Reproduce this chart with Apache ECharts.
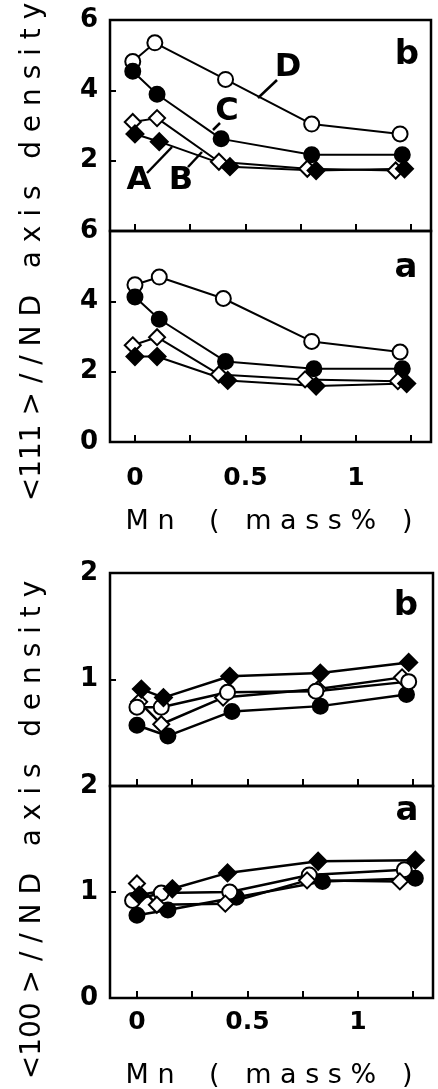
<!DOCTYPE html>
<html>
<head>
<meta charset="utf-8">
<script src="https://cdn.jsdelivr.net/npm/echarts@6/dist/echarts.min.js"></script>
<style>
html, body { margin: 0; padding: 0; background: #fff; }
#main { width: 438px; height: 1089px; }
</style>
</head>
<body>
<div id="main"></div>
<script>
/* ---- data: [Mn mass%, density] ---- */
// <111>//ND, panel b
var p111b_A = [[0.00, 2.76], [0.11, 2.54], [0.43, 1.83], [0.82, 1.72], [1.22, 1.77]];
var p111b_B = [[-0.01, 3.10], [0.10, 3.21], [0.38, 1.97], [0.78, 1.77], [1.18, 1.72]];
var p111b_C = [[-0.01, 4.54], [0.10, 3.89], [0.39, 2.62], [0.80, 2.17], [1.21, 2.17]];
var p111b_D = [[-0.01, 4.82], [0.09, 5.35], [0.41, 4.31], [0.80, 3.04], [1.20, 2.76]];
// <111>//ND, panel a
var p111a_A = [[0.00, 2.43], [0.10, 2.43], [0.42, 1.75], [0.82, 1.59], [1.23, 1.66]];
var p111a_B = [[-0.01, 2.75], [0.10, 2.98], [0.38, 1.92], [0.77, 1.78], [1.19, 1.73]];
var p111a_C = [[0.00, 4.12], [0.11, 3.49], [0.41, 2.29], [0.81, 2.08], [1.21, 2.08]];
var p111a_D = [[0.00, 4.47], [0.11, 4.69], [0.40, 4.08], [0.80, 2.86], [1.20, 2.56]];
// <100>//ND, panel b
var p100b_A = [[0.02, 0.91], [0.12, 0.83], [0.42, 1.03], [0.83, 1.06], [1.23, 1.16]];
var p100b_B = [[0.01, 0.79], [0.11, 0.58], [0.39, 0.83], [0.82, 0.91], [1.20, 1.02]];
var p100b_C = [[0.00, 0.57], [0.14, 0.47], [0.43, 0.70], [0.83, 0.75], [1.22, 0.86]];
var p100b_D = [[0.00, 0.74], [0.11, 0.74], [0.41, 0.88], [0.81, 0.89], [1.23, 0.98]];
// <100>//ND, panel a
var p100a_A = [[0.01, 0.97], [0.16, 1.03], [0.41, 1.18], [0.82, 1.29], [1.26, 1.30]];
var p100a_B = [[0.00, 1.08], [0.09, 0.88], [0.40, 0.89], [0.77, 1.11], [1.19, 1.10]];
var p100a_C = [[0.00, 0.78], [0.14, 0.83], [0.45, 0.95], [0.84, 1.10], [1.26, 1.13]];
var p100a_D = [[-0.02, 0.92], [0.11, 0.99], [0.42, 1.00], [0.78, 1.16], [1.21, 1.21]];

var xTicks = [0, 0.25, 0.5, 0.75, 1, 1.25];
var xTickLabels = [0, 0.5, 1];

var tickFont = 'DejaVu Sans';
var titleFont = 'DejaVu Sans';

// grids: 0 = <111> b, 1 = <111> a, 2 = <100> b, 3 = <100> a
var grids = [
    {left: 110, top: 20, width: 321, height: 211},
    {left: 110, top: 231, width: 321, height: 211},
    {left: 110, top: 573, width: 323, height: 213},
    {left: 110, top: 786, width: 323, height: 212}
];
grids.forEach(function (g) {
    g.show = true;
    g.borderColor = '#000';
    g.borderWidth = 2.5;
    g.backgroundColor = 'transparent';
});

function xAxis(idx, showLabels, xmin, margin) {
    return {
        type: 'value', gridIndex: idx, min: xmin, max: 1.34,
        axisLine: {show: false, onZero: false},
        splitLine: {show: false},
        axisTick: {inside: true, length: 7, customValues: xTicks, lineStyle: {color: '#000', width: 2}},
        axisLabel: {
            show: showLabels, customValues: xTickLabels, margin: margin,
            color: '#000', fontFamily: tickFont, fontWeight: 'bold', fontSize: 25
        }
    };
}

function yAxis(idx, max, step, hideMin) {
    return {
        type: 'value', gridIndex: idx, min: 0, max: max, interval: step,
        axisLine: {show: false, onZero: false},
        splitLine: {show: false},
        axisTick: {inside: true, length: 6, lineStyle: {color: '#000', width: 2}},
        axisLabel: {
            showMinLabel: !hideMin, margin: 12,
            color: '#000', fontFamily: tickFont, fontWeight: 'bold', fontSize: 26
        }
    };
}

// A filled diamond, B open diamond, C filled circle, D open circle
var markers = {
    A: {symbol: 'diamond', fill: '#000', size: 17},
    B: {symbol: 'diamond', fill: '#fff', size: 16},
    C: {symbol: 'circle', fill: '#000', size: 15},
    D: {symbol: 'circle', fill: '#fff', size: 15}
};

function line(name, data, idx, lw) {
    var m = markers[name];
    return {
        name: name, type: 'line', xAxisIndex: idx, yAxisIndex: idx,
        data: data,
        symbol: m.symbol, symbolSize: m.size,
        showAllSymbol: true,
        lineStyle: {color: '#000', width: lw},
        itemStyle: {color: m.fill, borderColor: '#000', borderWidth: 2},
        emphasis: {disabled: true},
        animation: false,
        z: 3
    };
}

var series = [
    line('D', p111b_D, 0, 2), line('C', p111b_C, 0, 2), line('B', p111b_B, 0, 2), line('A', p111b_A, 0, 2),
    line('D', p111a_D, 1, 2), line('C', p111a_C, 1, 2), line('B', p111a_B, 1, 2), line('A', p111a_A, 1, 2),
    line('C', p100b_C, 2, 2.5), line('B', p100b_B, 2, 2.5), line('D', p100b_D, 2, 2.5), line('A', p100b_A, 2, 2.5),
    line('C', p100a_C, 3, 2.5), line('D', p100a_D, 3, 2.5), line('B', p100a_B, 3, 2.5), line('A', p100a_A, 3, 2.5)
];

function txt(s, x, y, font, rot) {
    return {
        type: 'text', x: x, y: y, rotation: rot || 0, z: 10,
        style: {text: s, x: 0, y: 0, font: font, fill: '#000', textAlign: 'center', textVerticalAlign: 'middle'}
    };
}
function seg(x1, y1, x2, y2) {
    return {
        type: 'line', z: 10,
        shape: {x1: x1, y1: y1, x2: x2, y2: y2},
        style: {stroke: '#000', lineWidth: 2.5}
    };
}

var titleStyle = '28px ' + titleFont;
var xTitleStyle = '27px ' + titleFont;
var panelStyle = 'bold 34px ' + tickFont;
var curveStyle = 'bold 32px ' + tickFont;

var graphic = [
    // axis titles
    txt('<111 > / / N D   a x i s   d e n s i t y', 33, 252, titleStyle, Math.PI / 2),
    txt('<100 > / / N D   a x i s   d e n s i t y', 33, 830, titleStyle, Math.PI / 2),
    txt('M n    (   m a s s %   )', 269, 522, xTitleStyle),
    txt('M n    (   m a s s %   )', 269, 1076, xTitleStyle),
    // panel letters
    txt('b', 407, 55, panelStyle),
    txt('a', 406, 268, panelStyle),
    txt('b', 406, 606, panelStyle),
    txt('a', 407, 811, panelStyle),
    // curve labels and leaders
    txt('D', 288, 68, curveStyle),
    txt('C', 227, 112, curveStyle),
    txt('B', 181, 181, curveStyle),
    txt('A', 139, 181, curveStyle),
    seg(258, 98, 277, 80),
    seg(213, 130, 220, 123),
    seg(188, 167, 202, 152),
    seg(147, 173, 172, 147)
];

var myChart = echarts.init(document.getElementById('main'), null, {renderer: 'canvas'});
var option = {
    backgroundColor: '#fff',
    animation: false,
    grid: grids,
    xAxis: [
        xAxis(0, false, -0.113, 24),
        xAxis(1, true, -0.113, 24),
        xAxis(2, false, -0.122, 12),
        xAxis(3, true, -0.122, 12)
    ],
    yAxis: [
        yAxis(0, 6, 2, true),
        yAxis(1, 6, 2, false),
        yAxis(2, 2, 1, true),
        yAxis(3, 2, 1, false)
    ],
    series: series,
    graphic: graphic
};
myChart.setOption(option);
</script>
</body>
</html>
